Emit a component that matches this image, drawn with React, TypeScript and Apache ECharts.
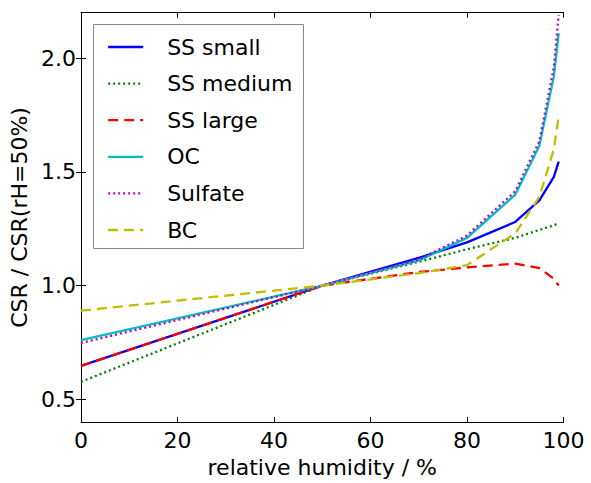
import React, { useEffect, useRef } from "react";
import * as echarts from "echarts";

const rh = [0, 50, 70, 80, 90, 95, 98, 99];
const ssSmall = [0.647, 1.0, 1.122, 1.19, 1.28, 1.375, 1.478, 1.545];
const ssMedium = [0.577, 1.0, 1.105, 1.16, 1.21, 1.245, 1.265, 1.275];
const ssLarge = [0.647, 1.0, 1.06, 1.08, 1.097, 1.077, 1.03, 1.0];
const oc = [0.76, 1.0, 1.11, 1.21, 1.4, 1.615, 1.92, 2.11];
const sulfate = [0.748, 1.0, 1.115, 1.22, 1.415, 1.635, 1.96, 2.19];
const bc = [0.89, 1.0, 1.055, 1.09, 1.23, 1.39, 1.6, 1.745];

const yTicks = [0.5, 1.0, 1.5, 2.0];
const xLabel = "relative humidity / %";
const yLabel = "CSR / CSR(rH=50%)";

const FONT = "DejaVu Sans";

function pairs(ys: number[]) {
  return rh.map((x, i) => [x, ys[i]]);
}

export default function App() {
  const ref = useRef<HTMLDivElement>(null);
  useEffect(() => {
    if (!ref.current) return;
    const chart = echarts.init(ref.current, undefined, { renderer: "svg" });
    const grid = { left: 81, top: 12.7, right: 27.5, bottom: 59.7 };
    const LW = 2.3;
    const mk = (name: string, ys: number[], color: string, type: any) => ({
      name,
      type: "line",
      data: pairs(ys),
      symbol: "none",
      showSymbol: false,
      lineStyle: { color, width: LW, type },
      itemStyle: { color },
      emphasis: { disabled: true },
    });
    chart.setOption({
      animation: false,
      textStyle: { fontFamily: FONT },
      grid,
      xAxis: [
        {
          type: "value",
          min: 0,
          max: 100,
          interval: 20,
          position: "bottom",
          name: xLabel,
          nameLocation: "middle",
          nameGap: 33,
          nameTextStyle: { fontSize: 22, color: "#000", fontFamily: FONT },
          axisLine: { show: true, lineStyle: { color: "#000", width: 1 } },
          axisTick: { show: true, inside: true, length: 5, lineStyle: { color: "#000" } },
          axisLabel: { fontSize: 22, color: "#000", margin: 7, fontFamily: FONT },
          splitLine: { show: false },
        },
        {
          type: "value",
          min: 0,
          max: 100,
          interval: 20,
          position: "top",
          axisLine: { show: true, lineStyle: { color: "#000", width: 1 } },
          axisTick: { show: true, inside: true, length: 5, lineStyle: { color: "#000" } },
          axisLabel: { show: false },
          splitLine: { show: false },
        },
      ],
      yAxis: [
        {
          type: "value",
          min: 0.4,
          max: 2.2,
          position: "left",
          name: yLabel,
          nameLocation: "middle",
          nameGap: 47,
          nameTextStyle: { fontSize: 22, color: "#000", fontFamily: FONT },
          axisLine: { show: true, lineStyle: { color: "#000", width: 1 } },
          axisTick: {
            show: true,
            inside: true,
            length: 5,
            customValues: yTicks,
            lineStyle: { color: "#000" },
          },
          axisLabel: {
            fontSize: 22,
            color: "#000",
            margin: 5,
            fontFamily: FONT,
            customValues: yTicks,
            formatter: (v: number) => v.toFixed(1),
          },
          splitLine: { show: false },
        },
        {
          type: "value",
          min: 0.4,
          max: 2.2,
          position: "right",
          axisLine: { show: true, lineStyle: { color: "#000", width: 1 } },
          axisTick: {
            show: true,
            inside: true,
            length: 5,
            customValues: yTicks,
            lineStyle: { color: "#000" },
          },
          axisLabel: { show: false },
          splitLine: { show: false },
        },
      ],
      legend: {
        orient: "vertical",
        left: 107,
        top: 36,
        padding: 0,
        itemWidth: 35,
        itemHeight: 22,
        itemGap: 14.6,
        selectedMode: false,
        itemStyle: { opacity: 0, borderWidth: 0 },
        lineStyle: { width: LW },
        textStyle: {
          fontSize: 22,
          lineHeight: 22,
          color: "#000",
          fontFamily: FONT,
          padding: [0, 0, 0, 19],
        },
        data: ["SS small", "SS medium", "SS large", "OC", "Sulfate", "BC"],
      },
      graphic: [
        {
          type: "rect",
          z: 3,
          shape: { x: 93.5, y: 24.5, width: 210, height: 224 },
          style: { fill: "#fff", stroke: "#888", lineWidth: 1 },
        },
      ],
      series: [
        mk("SS small", ssSmall, "#0000ff", "solid"),
        mk("SS medium", ssMedium, "#008000", [2, 3]),
        mk("SS large", ssLarge, "#ff0000", [10, 6]),
        mk("OC", oc, "#00bfbf", "solid"),
        mk("Sulfate", sulfate, "#bf00bf", [2, 3]),
        mk("BC", bc, "#bfbf00", [10, 6]),
      ],
    });
    return () => chart.dispose();
  }, []);
  return (
    <div
      ref={ref}
      style={{ position: "absolute", left: 0, top: 0, width: 591, height: 483, background: "#fff" }}
    />
  );
}
